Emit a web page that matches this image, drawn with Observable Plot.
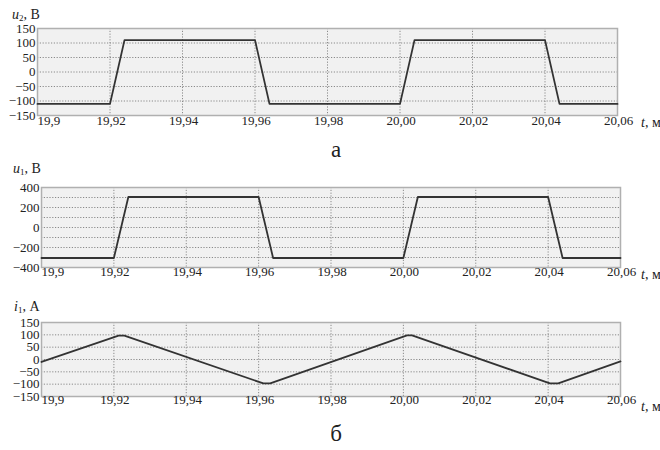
<!DOCTYPE html>
<html>
<head>
<meta charset="utf-8">
<script src="https://cdn.jsdelivr.net/npm/d3@7"></script>
<script src="https://cdn.jsdelivr.net/npm/@observablehq/plot@0.6"></script>
<style>
  html, body { margin: 0; padding: 0; background: #fff; }
  #wrap { position: relative; width: 660px; height: 450px; overflow: hidden; font-family: 'Liberation Serif', 'Times New Roman', 'DejaVu Serif', serif; color: #222; }
  #wrap svg, #wrap svg text { font-family: 'Liberation Serif', 'Times New Roman', 'DejaVu Serif', serif !important; }
  .pl { position: absolute; left: 0; }
  .lab { position: absolute; font-size: 14px; line-height: 16px; white-space: nowrap; }
  .lab sub { font-size: 9px; vertical-align: -2px; line-height: 0; }
  .cap { position: absolute; font-size: 23px; line-height: 24px; transform: translateX(-50%); }
</style>
</head>
<body>
<div id="wrap"></div>
<script>
// ---- data ----
const tTicks = [19.9, 19.92, 19.94, 19.96, 19.98, 20.0, 20.02, 20.04, 20.06];
const tTickLabels = ["19,9", "19,92", "19,94", "19,96", "19,98", "20,00", "20,02", "20,04", "20,06"];

const tU = [19.9, 19.92, 19.924, 19.96, 19.964, 20.0, 20.004, 20.04, 20.044, 20.06];
const u2 = [-110, -110, 110, 110, -110, -110, 110, 110, -110, -110];
const u1 = [-305, -305, 305, 305, -305, -305, 305, 305, -305, -305];

const tI = [19.9, 19.9213, 19.9229, 19.9613, 19.9632, 20.001, 20.0024, 20.0405, 20.0428, 20.06];
const i1 = [-10, 97, 97, -97, -97, 98, 98, -97, -97, -8];

const u2Ticks = [-150, -100, -50, 0, 50, 100, 150];
const u2Grid = [-100, -50, 0, 50, 100];
const u1Ticks = [-400, -200, 0, 200, 400];
const u1Grid = [-300, -200, -100, 0, 100, 200, 300];
const i1Ticks = [-150, -100, -50, 0, 50, 100, 150];
const i1Grid = [-100, -50, 0, 50, 100];

// ---- build ----
const xTickData = tTicks.map((t, k) => ({t, label: tTickLabels[k]}));
const innerX = tTicks.slice(1, -1);
const FONT = "'Liberation Serif', 'Times New Roman', 'DejaVu Serif', serif";

function panel({ts, vs, yDomain, yTicks, yGrid, height, mTop, mBottom, mLeft, mRight, dy}) {
  const data = ts.map((t, k) => ({t, v: vs[k]}));
  return Plot.plot({
    width: 660, height,
    marginTop: mTop, marginBottom: mBottom, marginLeft: mLeft, marginRight: mRight,
    x: {domain: [19.9, 20.06]},
    y: {domain: yDomain},
    style: {fontFamily: FONT, fontSize: "13px", color: "#222", background: "transparent", overflow: "visible"},
    marks: [
      Plot.frame({fill: "#f1f1f1"}),
      Plot.gridX(innerX, {stroke: "#8a8a8a", strokeOpacity: 1, strokeDasharray: "1.2,1.6"}),
      Plot.gridY(yGrid, {stroke: "#8a8a8a", strokeOpacity: 1, strokeDasharray: "1.2,1.6"}),
      Plot.frame({stroke: "#b0b0b0", strokeWidth: 1.5}),
      Plot.line(data, {x: "t", y: "v", stroke: "#333", strokeWidth: 1.8}),
      Plot.axisY(yTicks, {tickSize: 0, tickPadding: 2, fontSize: 13, label: null}),
      Plot.axisX({ticks: [], label: null}),
      Plot.text(xTickData.slice(0, 1), {x: "t", text: "label", frameAnchor: "bottom", dy, textAnchor: "start", fontSize: 13, fill: "#222"}),
      Plot.text(xTickData.slice(1), {x: "t", text: "label", frameAnchor: "bottom", dy, dx: 1, fontSize: 13, fill: "#222"})
    ]
  });
}

const wrap = document.getElementById("wrap");

function place(svg, top) {
  svg.classList.add("pl");
  svg.style.top = top + "px";
  wrap.appendChild(svg);
}

place(panel({ts: tU, vs: u2, yDomain: [-150, 150], yTicks: u2Ticks, yGrid: u2Grid,
  height: 135, mTop: 28, mBottom: 20, mLeft: 37, mRight: 43, dy: 9}), 0);
place(panel({ts: tU, vs: u1, yDomain: [-400, 400], yTicks: u1Ticks, yGrid: u1Grid,
  height: 130, mTop: 27, mBottom: 23, mLeft: 41, mRight: 40, dy: 8}), 160);
place(panel({ts: tI, vs: i1, yDomain: [-150, 150], yTicks: i1Ticks, yGrid: i1Grid,
  height: 130, mTop: 27, mBottom: 29, mLeft: 41, mRight: 40, dy: 7}), 295);

function html(cls, left, top, content) {
  const d = document.createElement("div");
  d.className = cls;
  d.style.left = left + "px";
  d.style.top = top + "px";
  d.innerHTML = content;
  wrap.appendChild(d);
}

html("lab", 12, 7, "<i>u</i><sub>2</sub>, В");
html("lab", 13, 161, "<i>u</i><sub>1</sub>, В");
html("lab", 14, 299, "<i>i</i><sub>1</sub>, А");
html("lab", 641, 115, "<i>t</i>, мс");
html("lab", 641, 267, "<i>t</i>, мс");
html("lab", 641, 399, "<i>t</i>, мс");
html("cap", 336, 138, "а");
html("cap", 336, 422, "б");
</script>
</body>
</html>
